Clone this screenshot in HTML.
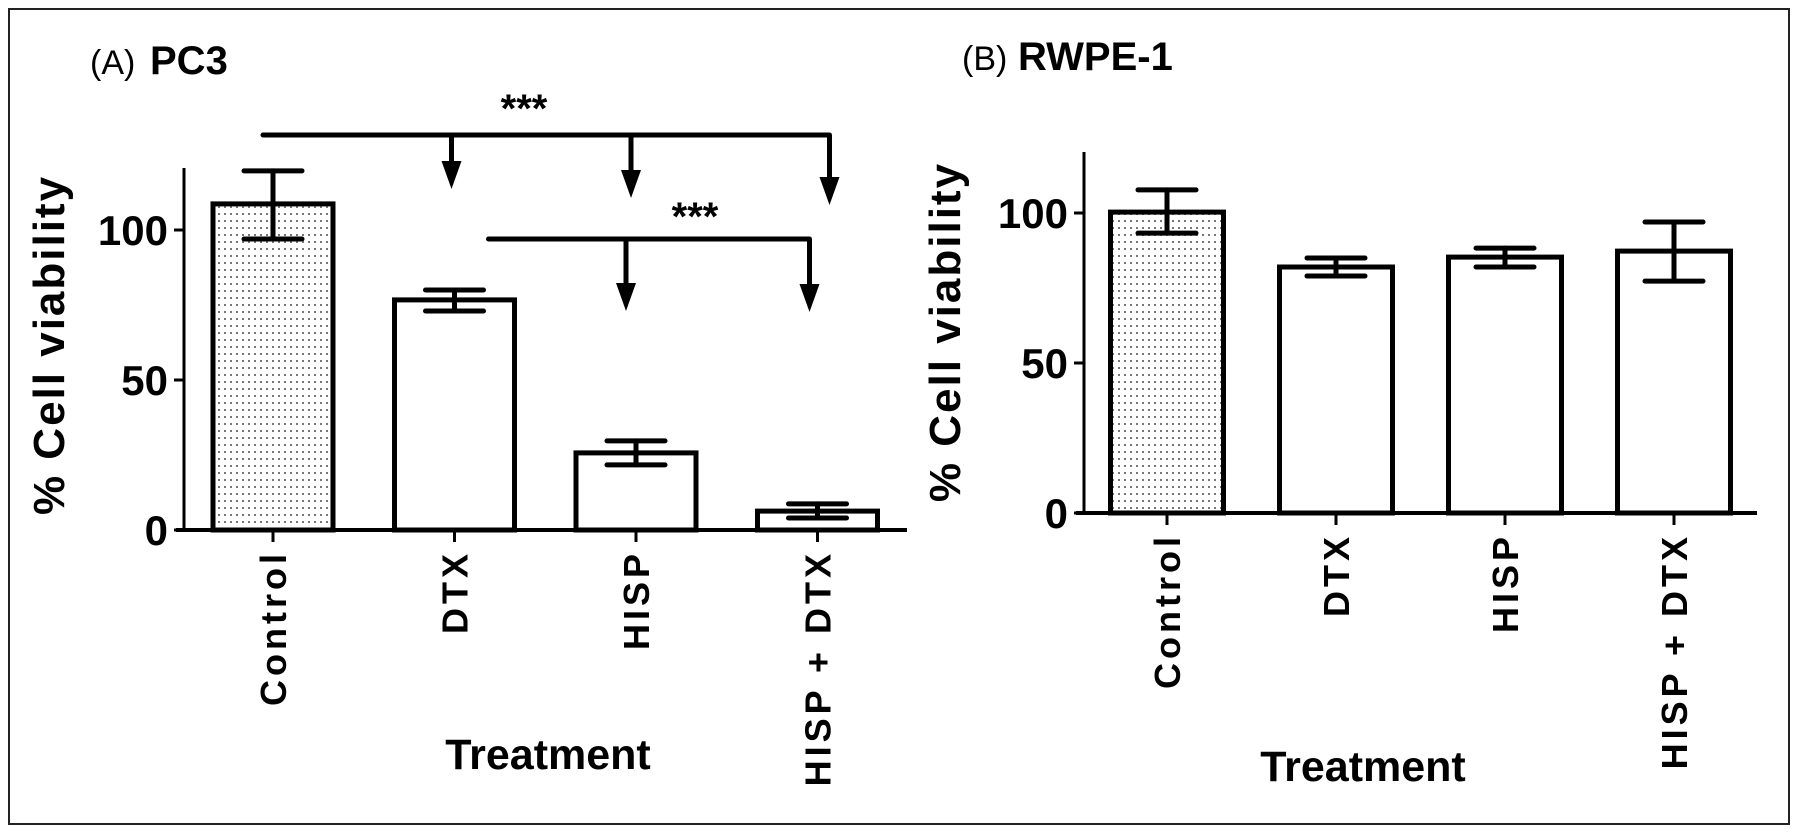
<!DOCTYPE html>
<html><head><meta charset="utf-8">
<style>
html,body{margin:0;padding:0;background:#fff;}
svg{display:block;font-family:"Liberation Sans",Arial,sans-serif;}
</style></head>
<body>
<svg id="fig" width="1800" height="834" viewBox="0 0 1800 834" xmlns="http://www.w3.org/2000/svg">
<defs>
<pattern id="dots" width="6" height="7" patternUnits="userSpaceOnUse">
<rect width="6" height="7" fill="#fff"/>
<rect x="2" y="3" width="2" height="2" fill="#777"/>
</pattern>
</defs>
<rect x="9" y="9" width="1780" height="815" fill="none" stroke="#222" stroke-width="2"/>
<g id="root"></g>
</svg>
<script>
const categories = ["Control","DTX","HISP","HISP + DTX"];
const pc3Values = [108.7, 76.7, 25.7, 6.3];
const pc3ErrHi = [119.7, 80, 29.7, 8.7];
const pc3ErrLo = [97, 73, 21.7, 4];
const rwpeValues = [100.3, 82, 85.3, 87.3];
const rwpeErrHi = [107.7, 85, 88.3, 97];
const rwpeErrLo = [93.3, 79, 82, 77.3];
const yTicks = [0, 50, 100];

const NS = "http://www.w3.org/2000/svg";
const root = document.getElementById('root');
function mk(tag, attrs, parent, text){
  const e = document.createElementNS(NS, tag);
  for (const k in attrs) e.setAttribute(k, attrs[k]);
  if (text !== undefined) e.textContent = text;
  (parent||root).appendChild(e);
  return e;
}

function panel(p){
  const g = mk('g', {});
  
  
  const y = v => p.y0 - v * p.ppu;
  const xc = i => p.c0 + i * p.step;
  const ya = mk('line', {x1:p.ax, y1:p.axTop, x2:p.ax, y2:p.y0+1.5, stroke:'#000','stroke-width':3}, g);
  
  
  const xa = mk('line', {x1:p.ax-8, y1:p.y0, x2:p.axEnd, y2:p.y0, stroke:'#000','stroke-width':4}, g);
  
  
  yTicks.forEach(t => {
    const tk = mk('line', {x1:p.ax-10, y1:y(t), x2:p.ax, y2:y(t), stroke:'#000','stroke-width':3}, g);
    
    
    const tl = mk('text', {x:p.ax-16, y:y(t)+15, 'text-anchor':'end','font-size':42,'font-weight':'bold'}, g, String(t));
    
    
  });
  p.vals.forEach((v, i) => {
    const cx = xc(i);
    const bar = mk('rect', {x:cx - p.bw/2, y:y(v), width:p.bw, height:p.y0 - y(v), fill: i===0 ? 'url(#dots)' : '#fff', stroke:'#000','stroke-width':5}, g);
    
    
    const eg = mk('g', {stroke:'#000','stroke-width':5,'stroke-linecap':'round'}, g);
    
    
    mk('line', {x1:cx, y1:y(p.hi[i]), x2:cx, y2:y(p.lo[i])}, eg);
    mk('line', {x1:cx-29, y1:y(p.hi[i]), x2:cx+29, y2:y(p.hi[i])}, eg);
    mk('line', {x1:cx-29, y1:y(p.lo[i]), x2:cx+29, y2:y(p.lo[i])}, eg);
    const xt = mk('line', {x1:cx, y1:p.y0, x2:cx, y2:p.y0+12, stroke:'#000','stroke-width':3}, g);
    
    
    const lx = cx + 13, ly = p.y0 + 20;
    const xl = mk('text', {x:lx, y:ly, 'text-anchor':'end','font-size':36,'font-weight':'bold','letter-spacing':4, transform:`rotate(-90 ${lx} ${ly})`}, g, categories[i]);
    
    
  });
  const yl = mk('text', {x:p.ylx, y:p.yly, 'text-anchor':'middle','font-size':44,'font-weight':'bold','letter-spacing':2, transform:`rotate(-90 ${p.ylx} ${p.yly})`}, g, '% Cell viability');
  
  
  const xtl = mk('text', {x:p.txx, y:p.txy + 15, 'text-anchor':'middle','font-size':43,'font-weight':'bold'}, g, 'Treatment');
  
  
  const t1 = mk('text', {x:p.t1x, y:p.ty, 'font-size':34}, g, p.tag);
  
  
  const t2 = mk('text', {x:p.t2x, y:p.ty, 'font-size':40,'font-weight':'bold'}, g, p.title);
  
  
  return {g, y, xc};
}

const A = panel({name:'panel-a-pc3', ax:184, axTop:168, axEnd:907, y0:530, ppu:3.0, c0:273, step:181.5, bw:120,
  vals:pc3Values, hi:pc3ErrHi, lo:pc3ErrLo, ylx:64, yly:345, txx:548, txy:754, t1x:90, t2x:150, ty:74, tag:'(A)', title:'PC3'});
const B = panel({name:'panel-b-rwpe1', ax:1084, axTop:152, axEnd:1757, y0:513, ppu:3.0, c0:1167, step:169, bw:113,
  vals:rwpeValues, hi:rwpeErrHi, lo:rwpeErrLo, ylx:960, yly:332, txx:1363, txy:766, t1x:962, t2x:1018, ty:70, tag:'(B)', title:'RWPE-1'});

// significance brackets (panel A)
function bracket(startX, arrowXs, yLine, tipYs, starX, starY){
  const g = mk('g', {stroke:'#000','stroke-width':5}, A.g);
  
  
  mk('line', {x1:startX, y1:yLine, x2:arrowXs[arrowXs.length-1], y2:yLine, 'stroke-linecap':'round'}, g);
  arrowXs.forEach((x, k) => {
    const tip = tipYs[k];
    mk('line', {x1:x, y1:yLine, x2:x, y2:tip-20}, g);
    mk('polygon', {points:`${x-10},${tip-28} ${x+10},${tip-28} ${x},${tip}`, fill:'#000','stroke-width':0}, g);
  });
  const s = mk('text', {x:starX, y:starY, 'text-anchor':'middle','font-size':40,'font-weight':'bold',stroke:'none'}, A.g, '***');
  
  
}
bracket(A.xc(0) - 10, [A.xc(1) - 3, A.xc(2) - 5, A.xc(3) + 12], 135, [189,198,205], 524, 122);
bracket(A.xc(1) + 34, [A.xc(2) - 10, A.xc(3) - 8], 239, [311,312], 695, 230);
</script>
</body></html>
